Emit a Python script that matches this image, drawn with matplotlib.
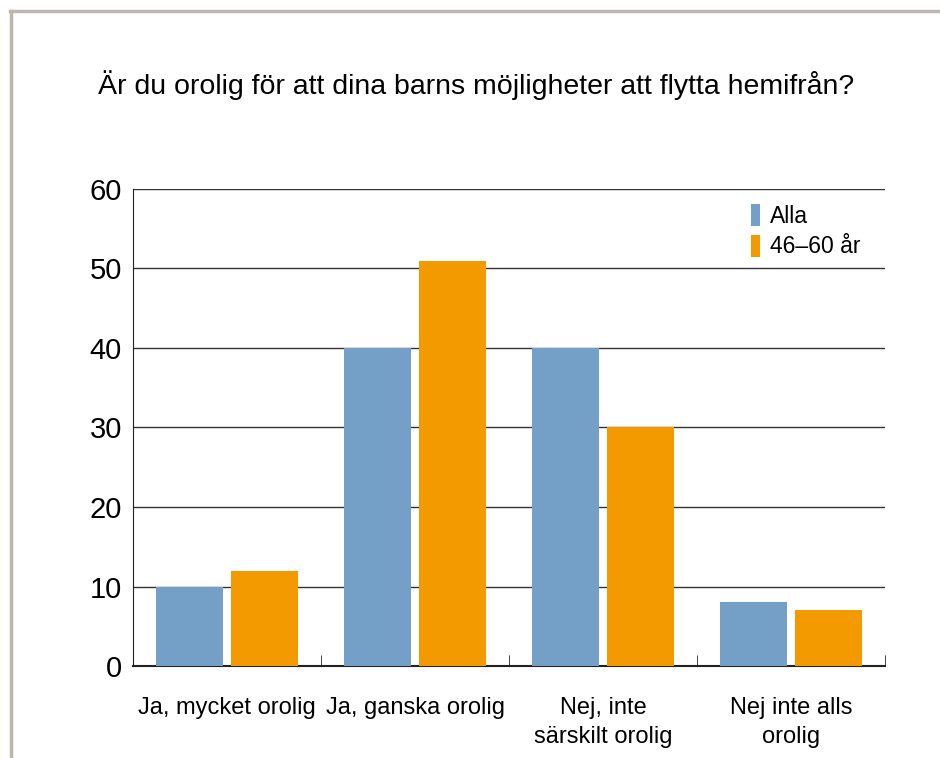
import numpy as np
import matplotlib.pyplot as plt
from matplotlib.lines import Line2D

plt.rcParams['font.family'] = ['Liberation Sans', 'DejaVu Sans']

# data
categories = ['Ja, mycket orolig', 'Ja, ganska orolig', 'Nej, inte\nsärskilt orolig', 'Nej inte alls\norolig']
alla = [10, 40, 40, 8]
ald_46_60 = [12, 51, 30, 7]
series_names = ['Alla', '46–60 år']
yticks = [0, 10, 20, 30, 40, 50, 60]

blue = '#74a0c8'
orange = '#f39a00'

fig = plt.figure(figsize=(9.4, 7.58), dpi=100)
ax = fig.add_axes([133/940, 1 - 666/758, (885-133)/940, (666-189)/758])

# outer frame (top and left edges only visible)
fig.add_artist(Line2D([10/940, 1], [1 - 11/758] * 2, color='#bdb7b0', lw=2.5, transform=fig.transFigure))
fig.add_artist(Line2D([11/940] * 2, [0, 1 - 11/758], color='#bdb7b0', lw=2.5, transform=fig.transFigure))

x = np.arange(len(categories))
w = 0.36
ax.bar(x - 0.2, alla, w, color=blue, label=series_names[0], zorder=3)
ax.bar(x + 0.2, ald_46_60, w, color=orange, label=series_names[1], zorder=3)

ax.set_xlim(-0.5, len(categories) - 0.5)
ax.set_ylim(0, 60)
ax.set_yticks(yticks)
ax.yaxis.grid(True, color='#333333', lw=1.0, zorder=0)
ax.tick_params(axis='y', length=0, pad=8, labelsize=21)

ax.set_xticks(x)
ax.set_xticklabels(categories, fontsize=17, linespacing=1.45)
ax.tick_params(axis='x', length=0, pad=22)
ax.set_xticks(np.arange(len(categories)) + 0.5, minor=True)
ax.tick_params(axis='x', which='minor', length=8, direction='in', color='#222222')

for s in ['top', 'right']:
    ax.spines[s].set_visible(False)
ax.spines['left'].set_color('#222222')
ax.spines['bottom'].set_color('#222222')
ax.spines['bottom'].set_linewidth(1.5)

leg = ax.legend(loc='upper right', bbox_to_anchor=(0.995, 1.012), frameon=False, fontsize=16.5,
                handlelength=0.4, handleheight=1.1, handletextpad=0.45, labelspacing=0.3)

fig.text(476/940, 1 - 85/758, 'Är du orolig för att dina barns möjligheter att flytta hemifrån?',
         ha='center', va='center', fontsize=20.5)

fig.savefig('out.png', dpi=100)
